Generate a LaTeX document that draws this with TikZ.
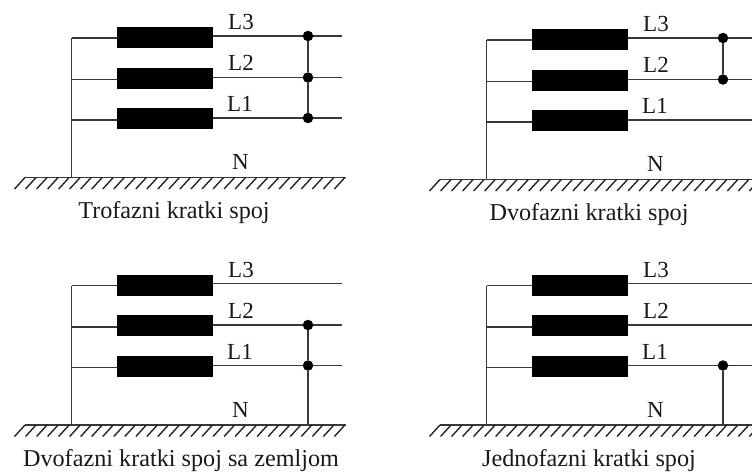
\documentclass[tikz,border=0pt]{standalone}
\usepackage{fontspec}
\setmainfont{Liberation Serif}
\tikzset{
  wire/.style={line width=1.9pt,draw=black!78},
  coil/.style={fill=black,draw=none,minimum width=96pt,minimum height=21pt,inner sep=0pt},
  joint/.style={circle,fill=black,draw=none,minimum size=10.5pt,inner sep=0pt},
  lbl/.style={font=\fontsize{23}{25}\selectfont,inner sep=0pt,text=black!90},
  captxt/.style={font=\fontsize{24.2}{26}\selectfont,inner sep=0pt,text=black!90},
  hatch/.style={line width=1.4pt,draw=black!85}
}
\newcommand{\panelbase}[5]{%
  % #1 prefix, #2 xoff, #3 yoff, #4 caption, #5 caption centre x
  \begin{scope}[shift={(#2pt,-#3pt)}]
    \node[coil] (#1c3) at (165pt,-37.5pt) {};
    \node[coil] (#1c2) at (165pt,-78pt) {};
    \node[coil] (#1c1) at (165pt,-118.5pt) {};
    \coordinate (#1g) at (71.5pt,-177.5pt);
    \coordinate (#1a) at (71.5pt,-38pt);
    \coordinate (#1b) at (71.5pt,-79.5pt);
    \coordinate (#1d) at (71.5pt,-120pt);
    \coordinate (#1e3) at (342pt,-36pt);
    \coordinate (#1e2) at (342pt,-77.5pt);
    \coordinate (#1e1) at (342pt,-118pt);
    \coordinate (#1gl) at (25pt,-177.5pt);
    \coordinate (#1gr) at (346pt,-177.5pt);
    \draw[wire] (#1a) -- (#1g);
    \draw[wire] (#1a) -- (#1a-|#1c3.west);
    \draw[wire] (#1b) -- (#1b-|#1c2.west);
    \draw[wire] (#1d) -- (#1d-|#1c1.west);
    \draw[wire] (#1e3-|#1c3.east) -- (#1e3);
    \draw[wire] (#1e2-|#1c2.east) -- (#1e2);
    \draw[wire] (#1e1-|#1c1.east) -- (#1e1);
    \draw[wire] (#1gl) -- (#1gr);
    \foreach \hx in {25,36.03,...,346} {\draw[hatch] (\hx pt,-177.5pt) -- ++(-10.5pt,-11.5pt);}
    \node[lbl] (#1l3) at (241pt,-22pt) {L3};
    \node[lbl] (#1l2) at (241pt,-63pt) {L2};
    \node[lbl] (#1l1) at (240pt,-104pt) {L1};
    \node[lbl] (#1n) at (240.5pt,-162pt) {N};
    \node[captxt] (#1cap) at (#5pt,-213pt) {#4};
  \end{scope}}
\begin{document}
\begin{tikzpicture}[x=1pt,y=1pt]
\useasboundingbox (0,0) rectangle (752,-475);
\fill[white] (0,0) rectangle (752,-475);
\panelbase{A}{0}{0}{Trofazni kratki spoj}{174}
\panelbase{B}{415}{2}{Dvofazni kratki spoj}{174}
\panelbase{C}{0}{247.5}{Dvofazni kratki spoj sa zemljom}{181}
\panelbase{D}{415}{247.5}{Jednofazni kratki spoj}{174}
% panel A junctions
\node[joint] (Aj3) at (308,0 |- Ae3) {};
\node[joint] (Aj2) at (308,0 |- Ae2) {};
\node[joint] (Aj1) at (308,0 |- Ae1) {};
\draw[wire] (Aj3) -- (Aj2);
\draw[wire] (Aj2) -- (Aj1);
% panel B junctions
\node[joint] (Bj3) at (723,0 |- Be3) {};
\node[joint] (Bj2) at (723,0 |- Be2) {};
\draw[wire] (Bj3) -- (Bj2);
% panel C junctions
\node[joint] (Cj2) at (308,0 |- Ce2) {};
\node[joint] (Cj1) at (308,0 |- Ce1) {};
\coordinate (Cjg) at (Cg-|Cj1);
\draw[wire] (Cj2) -- (Cj1);
\draw[wire] (Cj1) -- (Cjg);
% panel D junction
\node[joint] (Dj1) at (723,0 |- De1) {};
\coordinate (Djg) at (Dg-|Dj1);
\draw[wire] (Dj1) -- (Djg);
\end{tikzpicture}
\end{document}
